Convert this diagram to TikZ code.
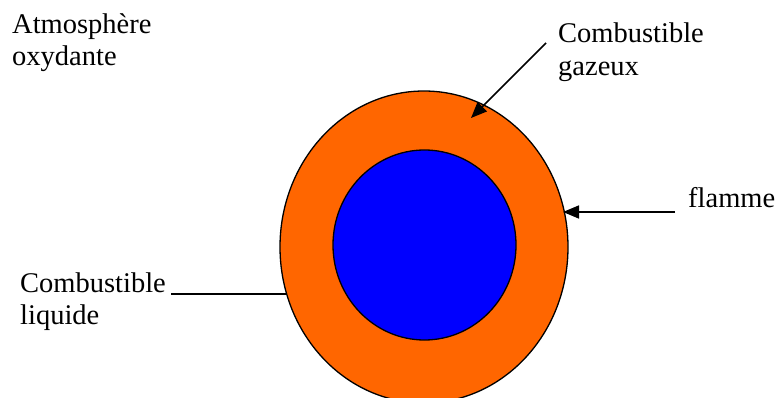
\documentclass[tikz,border=0pt]{standalone}
\usepackage{fontspec}
\setmainfont{Liberation Serif}
\usetikzlibrary{arrows.meta,shapes.geometric}
\begin{document}
\begin{tikzpicture}[x=1pt,y=-1pt,
  lbl/.style={anchor=base west,inner sep=0pt,font=\fontsize{28.5}{32.5}\selectfont},
  conn/.style={line width=1.6pt},
  arr/.style={conn,-{Triangle[length=16pt,width=13pt]}}]
\useasboundingbox (0,0) rectangle (777,398);
\definecolor{flameorange}{RGB}{255,102,0}
\definecolor{liqblue}{RGB}{0,0,255}
% drops
\node[ellipse,draw,line width=1.3pt,fill=flameorange,minimum width=288pt,minimum height=312pt,inner sep=0pt] (outer) at (424,247) {};
\node[ellipse,draw,line width=1.3pt,fill=liqblue,minimum width=183pt,minimum height=190pt,inner sep=0pt] (inner) at (424.5,245) {};
% labels
\node[lbl] (atm1) at (12,34) {Atmosphère};
\node[lbl] (atm2) at (12,66) {oxydante};
\node[lbl] (gaz1) at (558,43) {Combustible};
\node[lbl] (gaz2) at (558,76) {gazeux};
\node[lbl] (flamme) at (688,208) {flamme};
\node[lbl] (liq1) at (20,293) {Combustible};
\node[lbl] (liq2) at (20,325) {liquide};
% connector end points
\coordinate (gaztip) at (471,118);
\coordinate (flametip) at (563,212);
\coordinate (liqend) at (286,294);
% connectors
\draw[arr] ([shift={(-12,0)}]gaz1.base west) -- (gaztip);
\draw[arr] ([shift={(-13,4)}]flamme.base west) -- (flametip);
\draw[conn] ([shift={(5,1)}]liq1.base east) -- (liqend);
\end{tikzpicture}
\end{document}
